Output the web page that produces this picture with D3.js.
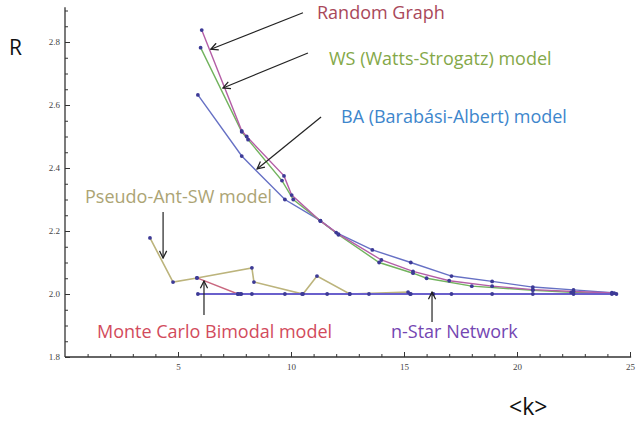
<!DOCTYPE html>
<html>
<head>
<meta charset="utf-8">
<script src="https://cdn.jsdelivr.net/npm/d3@7/dist/d3.min.js"></script>
<style>
  body { margin: 0; background: #fff; }
  svg { display: block; }
  .tick text { font-family: "Liberation Serif", serif; font-size: 9px; fill: #444; }
  .note { font-family: "Open Sans", sans-serif; font-size: 18px; }
</style>
</head>
<body>
<svg width="637" height="421"></svg>
<script>
// series values
var randomX = [6.05, 7.82, 8.04, 9.69, 10.03, 11.3, 12.1, 14.0, 15.4, 17.0, 18.9, 20.7, 22.5, 24.3];
var randomY = [2.838, 2.518, 2.500, 2.375, 2.314, 2.232, 2.19, 2.108, 2.072, 2.042, 2.025, 2.014, 2.008, 2.003];

var wsX = [6.0, 7.82, 8.1, 9.6, 10.1, 11.3, 12.1, 13.9, 15.4, 16.0, 18.0, 20.7, 22.4, 24.2];
var wsY = [2.782, 2.515, 2.49, 2.36, 2.30, 2.232, 2.188, 2.100, 2.066, 2.05, 2.025, 2.012, 2.005, 2.002];

var baX = [5.88, 7.82, 9.73, 11.3, 12.0, 13.6, 15.3, 17.1, 18.9, 20.7, 22.5, 24.2];
var baY = [2.632, 2.438, 2.30, 2.233, 2.195, 2.14, 2.10, 2.057, 2.04, 2.022, 2.013, 2.004];

var antX = [3.76, 4.78, 5.84, 8.27, 8.36, 10.53, 11.15, 12.6, 15.18, 15.3];
var antY = [2.178, 2.038, 2.051, 2.083, 2.038, 2.0, 2.057, 2.0, 2.006, 2.0];

var monteX = [5.84, 7.65, 7.8];
var monteY = [2.051, 2.0, 2.0];

var starX = [5.88, 7.65, 7.75, 8.27, 9.73, 10.49, 11.6, 12.6, 13.45, 15.27, 16.3, 17.1, 18.9, 20.7, 22.5, 24.2, 24.4];
var starY = starX.map(function () { return 2.0; });

// axis ticks
var xMajor = [5, 10, 15, 20, 25];
var yMajor = [1.8, 2.0, 2.2, 2.4, 2.6, 2.8];

// annotation arrows, [x0, y0, x1, y1] in data units
var arrows = [
  [10.53, 2.893, 6.45, 2.777],
  [10.75, 2.765, 6.99, 2.654],
  [11.33, 2.562, 8.5, 2.397],
  [4.34, 2.26, 4.34, 2.114],
  [6.15, 1.933, 6.15, 2.041],
  [16.24, 1.911, 16.24, 2.006]
];

var svg = d3.select("svg");

var xScale = d3.scaleLinear().domain([0, 25]).range([65, 630]);
var yScale = d3.scaleLinear().domain([1.8, 2.9]).range([357, 10.5]);

svg.append("rect").attr("width", 637).attr("height", 421).attr("fill", "#fff");

// minor ticks
var g = svg.append("g");
g.append("g")
  .attr("transform", "translate(0," + yScale(1.8) + ")")
  .call(d3.axisBottom(xScale).tickValues(d3.range(1, 26)).tickSize(-3).tickFormat(""))
  .call(function (a) { a.select(".domain").remove(); });
g.append("g")
  .attr("transform", "translate(" + xScale(0) + ",0)")
  .call(d3.axisLeft(yScale).tickValues(d3.range(36, 59).map(function (i) { return i * 0.05; })).tickSize(-3).tickFormat(""))
  .call(function (a) { a.select(".domain").remove(); });

// major ticks + labels
var xAxis = g.append("g")
  .attr("transform", "translate(0," + yScale(1.8) + ")")
  .call(d3.axisBottom(xScale).tickValues(xMajor).tickSizeInner(-5).tickSizeOuter(0).tickPadding(7).tickFormat(d3.format("d")));
var yAxis = g.append("g")
  .attr("transform", "translate(" + xScale(0) + ",0)")
  .call(d3.axisLeft(yScale).tickValues(yMajor).tickSizeInner(-5).tickSizeOuter(0).tickPadding(5).tickFormat(d3.format(".1f")));

svg.selectAll(".domain").attr("stroke", "#333").attr("stroke-width", 1.3);
svg.selectAll(".tick line").attr("stroke", "#333");
yAxis.select(".domain").attr("d", "M0," + yScale(1.8) + "V" + yScale(2.91));
xAxis.select(".domain").attr("d", "M" + xScale(0) + ",0H" + xScale(25.05));

function zip(xs, ys) { return xs.map(function (x, i) { return [x, ys[i]]; }); }

var line = d3.line()
  .x(function (d) { return xScale(d[0]); })
  .y(function (d) { return yScale(d[1]); });

var series = [
  { pts: zip(baX, baY), color: "#6670c4", w: 1.4 },
  { pts: zip(wsX, wsY), color: "#72b35e", w: 1.4 },
  { pts: zip(randomX, randomY), color: "#b45ea6", w: 1.4 },
  { pts: zip(antX, antY), color: "#bcb47c", w: 1.6 },
  { pts: zip(monteX, monteY), color: "#c9677f", w: 1.4 },
  { pts: zip(starX, starY), color: "#6a60cc", w: 2 }
];

svg.selectAll(".series")
  .data(series)
  .enter()
  .append("path")
  .attr("class", "series")
  .attr("d", function (d) { return line(d.pts); })
  .attr("fill", "none")
  .attr("stroke", function (d) { return d.color; })
  .attr("stroke-width", function (d) { return d.w; });

var allPts = [];
series.forEach(function (s) { allPts = allPts.concat(s.pts); });
svg.selectAll(".dot")
  .data(allPts)
  .enter()
  .append("circle")
  .attr("class", "dot")
  .attr("r", 1.9)
  .attr("cx", function (d) { return xScale(d[0]); })
  .attr("cy", function (d) { return yScale(d[1]); })
  .attr("fill", "#3d3a96");

// arrows
svg.append("defs").append("marker")
  .attr("id", "head")
  .attr("viewBox", "0 0 10 10")
  .attr("refX", 9).attr("refY", 5)
  .attr("markerWidth", 9).attr("markerHeight", 9)
  .attr("markerUnits", "userSpaceOnUse")
  .attr("orient", "auto")
  .append("path")
  .attr("d", "M1,1L9,5L1,9")
  .attr("fill", "none")
  .attr("stroke", "#222")
  .attr("stroke-width", 1.4);

svg.selectAll(".arrow")
  .data(arrows)
  .enter()
  .append("line")
  .attr("class", "arrow")
  .attr("x1", function (d) { return xScale(d[0]); })
  .attr("y1", function (d) { return yScale(d[1]); })
  .attr("x2", function (d) { return xScale(d[2]); })
  .attr("y2", function (d) { return yScale(d[3]); })
  .attr("stroke", "#222")
  .attr("stroke-width", 1.2)
  .attr("marker-end", "url(#head)");

// labels
var notes = [
  { t: "Random Graph", x: 317, y: 19, c: "#a9485a" },
  { t: "WS (Watts-Strogatz) model", x: 329, y: 65, c: "#84a848" },
  { t: "BA (Barabási-Albert) model", x: 341, y: 123, c: "#3d86cc" },
  { t: "Pseudo-Ant-SW model", x: 85, y: 203, c: "#aca474" },
  { t: "Monte Carlo Bimodal model", x: 97, y: 338, c: "#d24b5c" },
  { t: "n-Star Network", x: 391, y: 338, c: "#7446b2" }
];
svg.selectAll(".note")
  .data(notes)
  .enter()
  .append("text")
  .attr("class", "note")
  .attr("x", function (d) { return d.x; })
  .attr("y", function (d) { return d.y; })
  .attr("fill", function (d) { return d.c; })
  .text(function (d) { return d.t; });

svg.append("text").attr("x", 9).attr("y", 55)
  .style("font-family", "Open Sans, sans-serif").style("font-size", "21px").attr("fill", "#111")
  .text("R");
svg.append("text").attr("x", 509).attr("y", 415)
  .style("font-family", "Open Sans, sans-serif").style("font-size", "23px").attr("fill", "#111")
  .text("<k>");
</script>
</body>
</html>
